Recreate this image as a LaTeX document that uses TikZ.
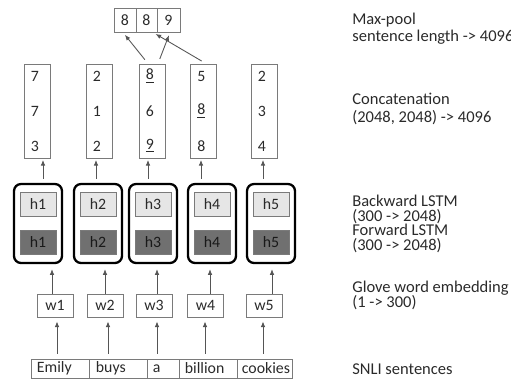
\documentclass[tikz,border=0pt]{standalone}
\usepackage{fontspec}
\setmainfont{Carlito}
\usetikzlibrary{arrows.meta}
\definecolor{bx}{HTML}{7A7A7A}
\definecolor{tx}{HTML}{2A2A2A}
\definecolor{lite}{HTML}{E6E6E6}
\definecolor{dark}{HTML}{707070}
\definecolor{ar}{HTML}{555555}
\begin{document}
\begin{tikzpicture}[x=0.02cm,y=-0.02cm,
  every node/.style={font=\fontsize{9}{11}\selectfont, text=tx},
  box/.style={draw=bx, line width=0.5pt, inner sep=0pt},
  lstm/.style={draw=black, line width=1.3pt, rounded corners=4pt, inner sep=0pt,
               minimum width=0.96cm, minimum height=1.58cm},
  hl/.style={draw=bx, fill=lite, line width=0.5pt, minimum width=0.72cm, minimum height=0.48cm, inner sep=0pt},
  hd/.style={draw=bx, fill=dark, line width=0.5pt, minimum width=0.72cm, minimum height=0.48cm, inner sep=0pt, text=black!90},
  col/.style={box, minimum width=0.52cm, minimum height=1.88cm},
  wbox/.style={box, minimum width=0.72cm, minimum height=0.46cm},
  arr/.style={draw=ar, line width=0.5pt, -{Latex[length=3.2pt,width=2.6pt]}},
  lab/.style={anchor=west, inner sep=0pt, text=tx, font=\fontsize{9.4}{11}\selectfont,
              text height=6.4pt, text depth=1.7pt}]
\useasboundingbox (0,0) rectangle (511,383);

% max-pool cells
\node[box, minimum width=0.44cm, minimum height=0.48cm] (m1) at (125,20) {8};
\node[box, minimum width=0.42cm, minimum height=0.48cm] (m2) at (146.5,20) {8};
\node[box, minimum width=0.46cm, minimum height=0.48cm] (m3) at (168.5,20) {9};

% concatenation columns
\node[col] (c1) at (37,111) {};
\node[col] (c2) at (99,111) {};
\node[col] (c3) at (152,111) {};
\node[col] (c4) at (203.5,111) {};
\node[col] (c5) at (264,111) {};
\foreach \c/\a/\b/\d in {c1/7/7/3, c2/2/1/2, c3/\underline{8}/6/\underline{9}, c4/5/\underline{8}/8, c5/2/3/4}{
  \node[anchor=west, inner sep=0pt] (\c a) at ([xshift=0.14cm]\c.west |- 0,76) {\a};
  \node[anchor=west, inner sep=0pt] (\c b) at ([xshift=0.14cm]\c.west |- 0,111) {\b};
  \node[anchor=west, inner sep=0pt] (\c d) at ([xshift=0.14cm]\c.west |- 0,146) {\d};
}

% LSTM boxes
\node[lstm] (l1) at (38,223.5) {};
\node[lstm] (l2) at (98,223.5) {};
\node[lstm] (l3) at (153,223.5) {};
\node[lstm] (l4) at (212,223.5) {};
\node[lstm] (l5) at (271,223.5) {};
\foreach \i in {1,...,5}{
  \node[hl] (hb\i) at (l\i.center |- 0,204) {h\i};
  \node[hd] (hf\i) at (l\i.center |- 0,242) {h\i};
}

% word embeddings
\node[wbox] (w1) at (55,305.5) {w1};
\node[wbox] (w2) at (105,305.5) {w2};
\node[wbox] (w3) at (154,305.5) {w3};
\node[wbox] (w4) at (205.5,305.5) {w4};
\node[wbox] (w5) at (264,305.5) {w5};

% sentence cells
\node[box, minimum width=1.16cm, minimum height=0.38cm] (s1) at (60,368.5) {};
\node[box, minimum width=1.16cm, minimum height=0.38cm] (s2) at (118,368.5) {};
\node[box, minimum width=0.64cm, minimum height=0.38cm] (s3) at (163,368.5) {};
\node[box, minimum width=1.16cm, minimum height=0.38cm] (s4) at (208,368.5) {};
\node[box, minimum width=1.10cm, minimum height=0.38cm] (s5) at (264.5,368.5) {};
\node[anchor=west, inner sep=0pt] (t1) at ([xshift=0.12cm]s1.west) {Emily};
\node[anchor=west, inner sep=0pt] (t2) at ([xshift=0.14cm]s2.west) {buys};
\node[anchor=west, inner sep=0pt] (t3) at ([xshift=0.12cm]s3.west) {a};
\node[anchor=west, inner sep=0pt] (t4) at ([xshift=0.12cm]s4.west) {billion};
\node[anchor=west, inner sep=0pt] (t5) at ([xshift=0.10cm]s5.west) {cookies};

% arrow x positions
\foreach \n/\x in {p1/57, p2/108, p3/157, p4/205, p5/263,
                   q1/52, q2/105, q3/157, q4/210, q5/272,
                   r1/43, r2/96, r3/148, r4/201, r5/263}{
  \coordinate (\n) at (\x,0);
}
\foreach \i in {1,...,5}{
  \draw[arr, shorten <=0.1cm, shorten >=0.08cm] (s\i.north -| p\i) -- (w\i.south -| p\i);
  \draw[arr, shorten >=0.1cm] (w\i.north -| q\i) -- (l\i.south -| q\i);
  \draw[arr, shorten <=0.08cm, shorten >=0.03cm] (l\i.north -| r\i) -- (c\i.south -| r\i);
}

% max-pool arrows
\coordinate (k1) at (148,0);
\coordinate (k2) at (158,0);
\coordinate (k3) at (206,0);
\coordinate (e1) at (123,0);
\coordinate (e2) at (153,0);
\coordinate (e3) at (170,0);
\draw[arr, shorten <=0.1cm, shorten >=0.06cm] (c3.north -| k1) -- (m1.south -| e1);
\draw[arr, shorten <=0.1cm, shorten >=0.06cm] (c3.north -| k2) -- (m3.south -| e3);
\draw[arr, shorten <=0.1cm, shorten >=0.06cm] (c4.north -| k3) -- (m2.south -| e2);

% labels
\node[lab] (L1) at (352,20) {Max-pool};
\node[lab] (L2) at (352,37) {sentence length -> 4096};
\node[lab] (L3) at (352,100) {Concatenation};
\node[lab] (L4) at (352,118) {(2048, 2048) -> 4096};
\node[lab] (L5) at (352,202) {Backward LSTM};
\node[lab] (L6) at (352,217) {(300 -> 2048)};
\node[lab] (L7) at (352,231.5) {Forward LSTM};
\node[lab] (L8) at (352,246.5) {(300 -> 2048)};
\node[lab] (L9) at (352,288) {Glove word embedding};
\node[lab] (L10) at (352,303) {(1 -> 300)};
\node[lab] (L11) at (352,370) {SNLI sentences};
\end{tikzpicture}
\end{document}
